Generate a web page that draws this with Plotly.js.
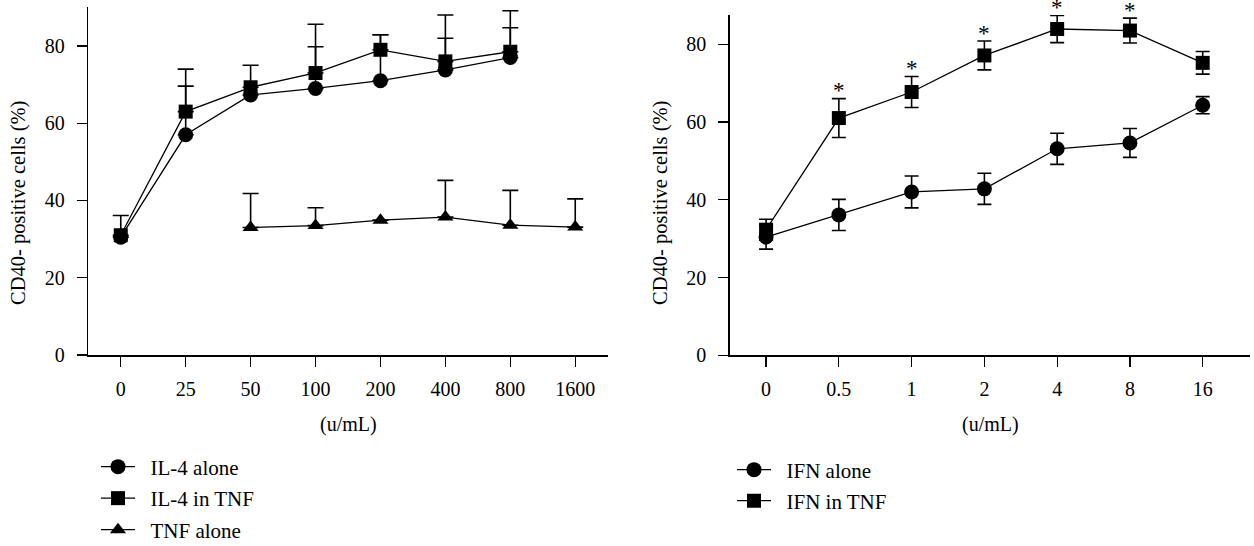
<!DOCTYPE html>
<html>
<head>
<meta charset="utf-8">
<script src="https://cdn.plot.ly/plotly-3.0.1.min.js"></script>
<style>html,body{margin:0;padding:0;background:#fff;}#chart{width:1254px;height:546px;}</style>
</head>
<body>
<div id="chart"></div>
<script>
// ---- Left panel data ----
const ilConc = ['0','25','50','100','200','400','800','1600'];
const il4AloneConc = ['0','25','50','100','200','400','800'];
const il4Alone = [30.5, 57, 67.3, 69, 71, 73.8, 77];
const il4AloneErr = [0, 12.6, 0, 10.8, 11.9, 8.2, 7.7];
const il4InTnf = [31, 63, 69.3, 73, 79, 76, 78.5];
const il4InTnfErr = [5.1, 11, 5.7, 12.6, 3.9, 12, 10.6];
const tnfConc = ['50','100','200','400','800','1600'];
const tnfAlone = [33, 33.5, 34.9, 35.7, 33.6, 33.1];
const tnfAloneErr = [8.8, 4.6, 0, 9.5, 9.0, 7.3];

// ---- Right panel data ----
const ifnConc = ['0','0.5','1','2','4','8','16'];
const ifnAlone = [30.4, 36.1, 42.0, 42.8, 53.1, 54.6, 64.3];
const ifnAloneErr = [3.1, 4.0, 4.1, 4.0, 4.0, 3.7, 2.2];
const ifnInTnf = [32.3, 61.0, 67.7, 77.1, 83.9, 83.5, 75.2];
const ifnInTnfErr = [2.7, 5.0, 4.0, 3.7, 3.5, 3.2, 2.9];
const significant = ['0.5','1','2','4','8'];

const yTicks = [0, 20, 40, 60, 80];
const yTitle = 'CD40- positive cells (%)';
const xTitle = '(u/mL)';

const FONT = 'Liberation Serif, Times New Roman, serif';
const BLACK = '#000';
const GAP = '\u2002';

function errUp(arr, w) {
  return {type: 'data', symmetric: false, array: arr, arrayminus: arr.map(() => 0),
          color: BLACK, thickness: 1.6, width: w};
}
function errSym(arr, w) {
  return {type: 'data', symmetric: true, array: arr, color: BLACK, thickness: 1.6, width: w};
}
function tr(name, x, y, err, symbol, size, xa, ya, leg) {
  return {type: 'scatter', mode: 'lines+markers', name: GAP + name, x: x, y: y,
          xaxis: xa, yaxis: ya, legend: leg, error_y: err, cliponaxis: false,
          line: {color: BLACK, width: 1.3},
          marker: {symbol: symbol, size: size, color: BLACK}};
}

const data = [
  tr('IL-4 alone', il4AloneConc, il4Alone, errUp(il4AloneErr, 8), 'circle', 15, 'x', 'y', 'legend'),
  tr('IL-4 in TNF', il4AloneConc, il4InTnf, errUp(il4InTnfErr, 8), 'square', 14, 'x', 'y', 'legend2'),
  tr('TNF alone', tnfConc, tnfAlone, errUp(tnfAloneErr, 8), 'triangle-up', 14, 'x', 'y', 'legend3'),
  tr('IFN alone', ifnConc, ifnAlone, errSym(ifnAloneErr, 7), 'circle', 15, 'x2', 'y2', 'legend4'),
  tr('IFN in TNF', ifnConc, ifnInTnf, errSym(ifnInTnfErr, 7), 'square', 14, 'x2', 'y2', 'legend5')
];

const W = 1254, H = 546;
const px = v => v / W;
const py = v => (H - v) / H;

function xAxis(domain, cats, range, anchor) {
  return {domain: domain, anchor: anchor, type: 'category', categoryorder: 'array', categoryarray: cats,
          range: range, showline: true, linecolor: BLACK, linewidth: 1.5,
          ticks: 'outside', ticklen: 10, tickwidth: 1.3, tickcolor: BLACK,
          showgrid: false, zeroline: false, fixedrange: true, automargin: false,
          tickfont: {family: FONT, size: 20, color: BLACK}, ticklabelstandoff: 5};
}
function yAxis(domain, range, anchor) {
  return {domain: domain, range: range, anchor: anchor, showline: true, linecolor: BLACK, linewidth: 1.5,
          ticks: 'outside', ticklen: 10, tickwidth: 1.3, tickcolor: BLACK,
          tickvals: yTicks, showgrid: false, zeroline: false, fixedrange: true, automargin: false,
          tickfont: {family: FONT, size: 20, color: BLACK}, ticklabelstandoff: 8};
}
function legendAt(xPix, yPix) {
  return {x: px(xPix), y: py(yPix), xanchor: 'left', yanchor: 'middle',
          bgcolor: 'rgba(0,0,0,0)', borderwidth: 0, itemwidth: 34,
          font: {family: FONT, size: 21, color: BLACK}};
}

const annotations = [];
// axis titles
[[18, 203], [660, 203]].forEach(a => annotations.push({
  xref: 'paper', yref: 'paper', x: px(a[0]), y: py(a[1]), xanchor: 'center', yanchor: 'middle',
  text: yTitle, textangle: -90, showarrow: false, font: {family: FONT, size: 20.5, color: BLACK}}));
[[348, 424], [990, 424]].forEach(a => annotations.push({
  xref: 'paper', yref: 'paper', x: px(a[0]), y: py(a[1]), xanchor: 'center', yanchor: 'middle',
  text: xTitle, showarrow: false, font: {family: FONT, size: 20, color: BLACK}}));
// significance stars
significant.forEach(c => {
  const i = ifnConc.indexOf(c);
  annotations.push({xref: 'x2', yref: 'y2', x: i, y: ifnInTnf[i] + ifnInTnfErr[i],
    text: '*', showarrow: false, xanchor: 'center', yanchor: 'middle', yshift: 8,
    font: {family: FONT, size: 23, color: BLACK}});
});

const layout = {
  width: W, height: H, margin: {l: 0, r: 0, t: 0, b: 0, autoexpand: false},
  paper_bgcolor: '#fff', plot_bgcolor: '#fff',
  font: {family: FONT, color: BLACK},
  xaxis: xAxis([px(88.3), px(607.7)], ilConc, [-0.5, 7.5], 'y'),
  yaxis: yAxis([1 - 355 / H, 1 - 7.3 / H], [0, 90], 'x'),
  xaxis2: xAxis([px(729.7), px(1250)], ifnConc, [-0.5, 6.65], 'y2'),
  yaxis2: yAxis([1 - 355.3 / H, 1 - 15 / H], [0, 87.5], 'x2'),
  legend: legendAt(96, 467),
  legend2: legendAt(96, 498.5),
  legend3: legendAt(96, 530),
  legend4: legendAt(732, 470),
  legend5: legendAt(732, 501),
  annotations: annotations,
  showlegend: true
};

Plotly.newPlot('chart', data, layout, {displayModeBar: false, staticPlot: true});
</script>
</body>
</html>
